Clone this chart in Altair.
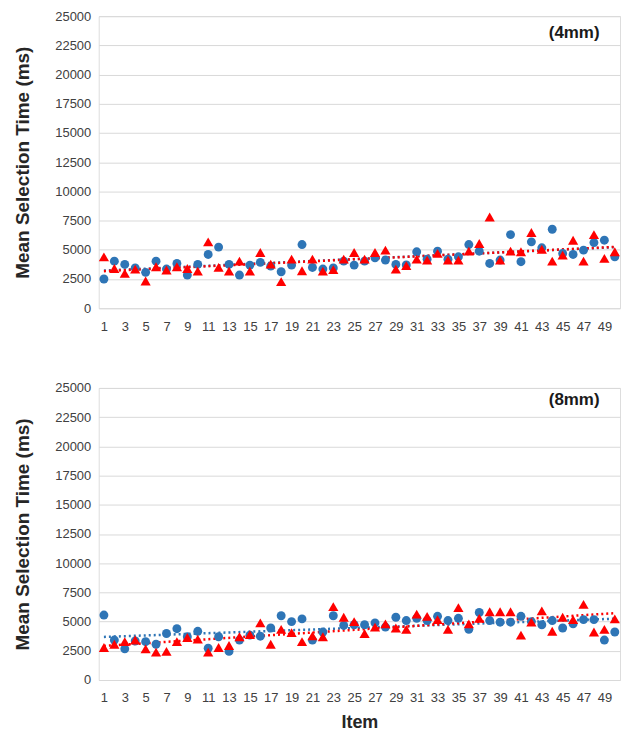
import altair as alt
import pandas as pd

items = list(range(1, 51))

top_blue = [2500, 4030, 3750, 3450, 3070, 4030, 3350, 3830, 2840, 3750,
            4600, 5230, 3750, 2840, 3690, 3920, 3600, 3120, 3690, 5450,
            3490, 3350, 3450, 4030, 3690, 4030, 4320, 4120, 3750, 3700,
            4830, 4200, 4880, 4200, 4400, 5450, 4880, 3830, 4120, 6300,
            3980, 5680, 5170, 6760, 4690, 4600, 4970, 5620, 5820, 4400]
top_red = [4400, 3400, 2980, 3350, 2330, 3550, 3270, 3550, 3400, 3180,
           5680, 3490, 3180, 4030, 3180, 4770, 3780, 2270, 4200, 3210,
           4200, 3180, 3300, 4200, 4770, 4200, 4770, 4970, 3350, 3640,
           4200, 4120, 4690, 4120, 4120, 4880, 5540, 7810, 4120, 4880,
           4830, 6480, 5050, 4030, 4540, 5820, 4030, 6300, 4260, 4830]

bot_blue = [5560, 3420, 2670, 3340, 3280, 3060, 3980, 4390, 3700, 4170,
            2720, 3700, 2450, 3420, 3840, 3750, 4450, 5500, 5000, 5230,
            3420, 4110, 5500, 4670, 4730, 4730, 4890, 4530, 5370, 5090,
            5280, 5090, 5450, 5090, 5280, 4340, 5780, 5090, 4950, 4950,
            5450, 5000, 4730, 5090, 4450, 4810, 5170, 5170, 3420, 4110]
bot_red = [2780, 3060, 3280, 3420, 2670, 2390, 2450, 3280, 3640, 3500,
           2390, 2780, 2950, 3700, 3890, 4890, 3060, 4340, 4060, 3280,
           3780, 3700, 6280, 5370, 5000, 3980, 4530, 4810, 4450, 4340,
           5640, 5450, 5170, 4340, 6200, 4810, 5280, 5840, 5840, 5840,
           3840, 4950, 5920, 4170, 5370, 5170, 6480, 4110, 4340, 5230]

y_ticks = list(range(0, 25001, 2500))
x_ticks = list(range(1, 50, 2))
panel_tags = ["(4mm)", "(8mm)"]
y_title = "Mean Selection Time (ms)"
x_title = "Item"

BLUE = "#2E75B6"
RED = "#FF0000"
FONT = "Liberation Sans"


def panel(blue, red, tag, xtitle, tag_y, height):
    df = pd.DataFrame({
        "item": items + items,
        "time": blue + red,
        "series": ["blue"] * len(blue) + ["red"] * len(red),
    })
    base = alt.Chart(df)
    xaxis_kw = dict(values=x_ticks, grid=False, domain=False, ticks=False,
                    labelPadding=12, labelFontSize=13, labelColor="#404040",
                    labelFont=FONT)
    if xtitle:
        xaxis_kw.update(title=xtitle, titleFontSize=18, titleFont=FONT,
                        titleFontWeight="bold", titleColor="#262626",
                        titlePadding=9)
    else:
        xaxis_kw.update(title=None)
    x = alt.X("item:Q", scale=alt.Scale(domain=[0.5, 50.5], nice=False, zero=False),
              axis=alt.Axis(**xaxis_kw))
    y = alt.Y("time:Q", scale=alt.Scale(domain=[0, 25000], nice=False),
              axis=alt.Axis(values=y_ticks, format="d", title=y_title, grid=True,
                            gridColor="#D9D9D9", gridWidth=1, domain=False,
                            ticks=False, labelPadding=8, labelFontSize=13,
                            labelColor="#404040", labelFont=FONT,
                            titleFontSize=19, titleFont=FONT,
                            titleFontWeight="bold", titleColor="#262626",
                            titlePadding=22))
    color = alt.Color("series:N", scale=alt.Scale(domain=["blue", "red"], range=[BLUE, RED]),
                      legend=None)
    trend = base.transform_regression("item", "time", groupby=["series"]).mark_line(
        strokeDash=[2, 3], strokeWidth=2.5).encode(x=x, y=y, color=color)
    pts_blue = base.transform_filter(alt.datum.series == "blue").mark_point(
        shape="circle", filled=True, size=80, opacity=1, color=BLUE).encode(x=x, y=y)
    pts_red = base.transform_filter(alt.datum.series == "red").mark_point(
        shape="triangle-up", filled=True, size=105, opacity=1, color=RED).encode(x=x, y=y)
    label = alt.Chart(alt.Data(values=[{"t": tag}])).mark_text(
        font=FONT, fontSize=17, fontWeight="bold", color="#1a1a1a", align="center",
        baseline="middle").encode(text="t:N", x=alt.value(477), y=alt.value(tag_y))
    return alt.layer(trend, pts_blue, pts_red, label).properties(width=523, height=height)


top = panel(top_blue, top_red, panel_tags[0], None, 17, 293)
bottom = panel(bot_blue, bot_red, panel_tags[1], x_title, 12, 293)

chart = alt.vconcat(top, bottom, spacing=47).configure_view(stroke=None).configure(
    padding={"left": 5, "top": 0, "right": 2, "bottom": 2})

chart.save("out.html", embed_options={"renderer": "svg", "actions": False})
